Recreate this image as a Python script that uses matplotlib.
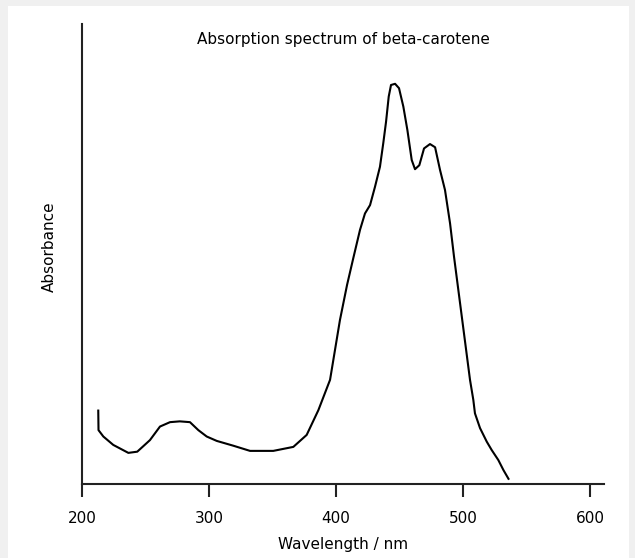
import numpy as np
import matplotlib
matplotlib.use("Agg")
import matplotlib.pyplot as plt
from matplotlib.patches import Rectangle

# beta-carotene absorption spectrum
wavelength = [212.8, 213.0, 216.8, 224.6, 236.5, 243.5, 248.0, 253.5, 261.4, 269.3,
              277.0, 285.0, 291.6, 298.2, 306.1, 319.1, 332.3, 350.6, 366.4, 376.9,
              386.1, 395.3, 403.1, 408.7, 413.6, 418.9, 422.8, 426.8, 430.7, 434.6,
              437.2, 439.4, 441.5, 443.3, 446.5, 449.6, 453.0, 456.2, 459.6, 462.2,
              465.6, 469.3, 474.0, 478.0, 481.9, 485.8, 489.8, 492.9, 505.5, 508.1,
              509.4, 513.4, 518.7, 522.6, 527.8, 531.8, 535.8]
absorbance = [0.184, 0.135, 0.119, 0.098, 0.078, 0.081, 0.094, 0.110, 0.144, 0.155,
              0.157, 0.155, 0.135, 0.119, 0.108, 0.096, 0.083, 0.083, 0.093, 0.123,
              0.185, 0.261, 0.411, 0.499, 0.566, 0.637, 0.678, 0.699, 0.745, 0.795,
              0.854, 0.908, 0.971, 1.000, 1.003, 0.992, 0.946, 0.887, 0.812, 0.789,
              0.799, 0.841, 0.852, 0.844, 0.787, 0.737, 0.653, 0.570, 0.261, 0.211,
              0.177, 0.140, 0.106, 0.085, 0.060, 0.035, 0.013]
xticks = [200, 300, 400, 500, 600]

plt.rcParams['font.family'] = ['DejaVu Sans']
plt.rcParams['font.size'] = 11

fig = plt.figure(figsize=(6.35, 5.58), dpi=100)
fig.patch.set_facecolor("#f0f0f0")
fig.patches.append(Rectangle((8/635, 0), 621/635, 552/558, transform=fig.transFigure,
                             facecolor="white", edgecolor="none", zorder=-10))

ax = fig.add_axes([82/635, (558-484)/558, (604-82)/635, (484-24)/558])
ax.set_facecolor("none")
ax.plot(wavelength, absorbance, color="black", lw=1.5)
ax.set_xlim(200, 611)
ax.set_ylim(0, 460/399)
ax.set_xticks(xticks)
ax.set_yticks([])
for s in ["top", "right"]:
    ax.spines[s].set_visible(False)
for s in ["left", "bottom"]:
    ax.spines[s].set_linewidth(1.5)
    ax.spines[s].set_color("#222222")
ax.tick_params(axis="x", length=9.5, width=1.5, color="#222222", pad=10)

ax.set_xlabel("Wavelength / nm", labelpad=8)
ax.set_ylabel("Absorbance")
ax.yaxis.set_label_coords(-25/522, 0.515)
ax.text(0.5, 0.967, "Absorption spectrum of beta-carotene", transform=ax.transAxes,
        ha="center", va="center")

fig.savefig("out.png", dpi=100, facecolor=fig.get_facecolor())
